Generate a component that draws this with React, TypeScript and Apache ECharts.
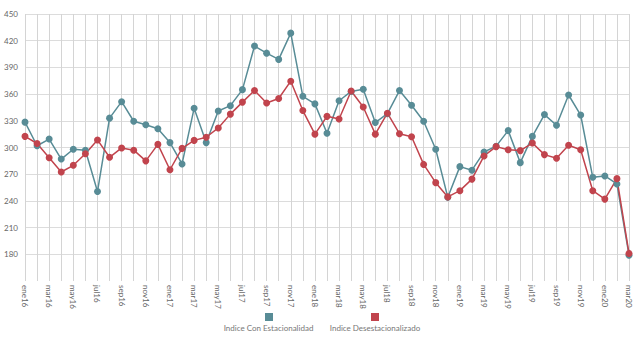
import React, { useEffect, useRef } from "react";
import * as echarts from "echarts";

const months = ["ene", "feb", "mar", "abr", "may", "jun", "jul", "ago", "sep", "oct", "nov", "dic"];
const categories: string[] = [];
for (let y = 16; y <= 20; y++) {
  for (let m = 0; m < 12; m++) {
    if (y === 20 && m > 2) break;
    categories.push(months[m] + y);
  }
}

const conEstacionalidad = [
  328.5, 302, 309.5, 287, 298, 297, 250.5, 333, 351.5, 329.5, 325.5, 321,
  305.5, 281.5, 344, 305.5, 341, 347, 365, 414, 406, 399, 428.5, 357.5,
  349, 316, 352.5, 363, 365.5, 328, 338, 364, 347.5, 329.5, 298, 244,
  278.5, 274.5, 295, 301.5, 319, 283, 312.5, 337, 325, 359, 336.5, 266.5,
  268, 259, 179,
];

const desestacionalizado = [
  312.5, 304.5, 288.5, 272.5, 280, 293, 308.5, 289, 299.5, 297, 285, 303.5,
  275, 299, 308, 311.5, 322, 337.5, 351, 364, 350, 355, 374.5, 341.5,
  315, 335, 332, 363.5, 345.5, 315, 338.5, 315.5, 312, 281, 260.5, 244.5,
  251.5, 264.5, 290.5, 301, 297.5, 296.5, 305, 292, 288, 302.5, 297.5, 251.5,
  242, 265, 181,
];

const seriesNames = ["Indice Con Estacionalidad", "Indice Desestacionalizado"];
const colors = ["#588c96", "#c1444d"];

export default function App() {
  const ref = useRef<HTMLDivElement>(null);
  useEffect(() => {
    if (!ref.current) return;
    const chart = echarts.init(ref.current, undefined, { renderer: "svg" });
    const font = "Lato, 'Open Sans', sans-serif";
    chart.setOption({
      animation: false,
      grid: { left: 25, right: 11, top: 14, bottom: 57 },
      xAxis: {
        type: "category",
        data: categories,
        boundaryGap: false,
        axisLine: { show: false },
        axisTick: { show: false },
        axisLabel: {
          rotate: -90,
          interval: 1,
          fontSize: 8,
          color: "#666",
          fontFamily: font,
          margin: 4,
        },
        splitLine: { show: true, interval: 0, lineStyle: { color: "#d4d4d4", width: 1 } },
      },
      yAxis: {
        type: "value",
        min: 150,
        max: 450,
        interval: 30,
        axisLine: { show: false },
        axisTick: { show: false },
        axisLabel: {
          showMinLabel: false,
          fontSize: 8,
          color: "#666",
          fontFamily: font,
          margin: 7,
        },
        splitLine: { show: true, showMinLine: false, lineStyle: { color: "#dcdcdc", width: 1 } },
      },
      series: [
        {
          name: seriesNames[0],
          type: "line",
          data: conEstacionalidad,
          symbol: "circle",
          symbolSize: 7,
          itemStyle: { color: colors[0] },
          lineStyle: { color: colors[0], width: 1.5 },
        },
        {
          name: seriesNames[1],
          type: "line",
          data: desestacionalizado,
          symbol: "circle",
          symbolSize: 7,
          itemStyle: { color: colors[1] },
          lineStyle: { color: colors[1], width: 1.5 },
        },
      ],
      graphic: [
        { type: "rect", shape: { x: 265, y: 313, width: 8, height: 8 }, style: { fill: colors[0] } },
        {
          type: "text",
          x: 268.5,
          y: 328,
          style: { text: seriesNames[0], fill: "#777", fontSize: 8, fontFamily: font, align: "center", verticalAlign: "middle" },
        },
        { type: "rect", shape: { x: 371, y: 313, width: 8, height: 8 }, style: { fill: colors[1] } },
        {
          type: "text",
          x: 375,
          y: 328,
          style: { text: seriesNames[1], fill: "#777", fontSize: 8, fontFamily: font, align: "center", verticalAlign: "middle" },
        },
      ],
    });
    return () => chart.dispose();
  }, []);
  return <div ref={ref} style={{ width: 640, height: 338, position: "absolute", left: 0, top: 0 }} />;
}
